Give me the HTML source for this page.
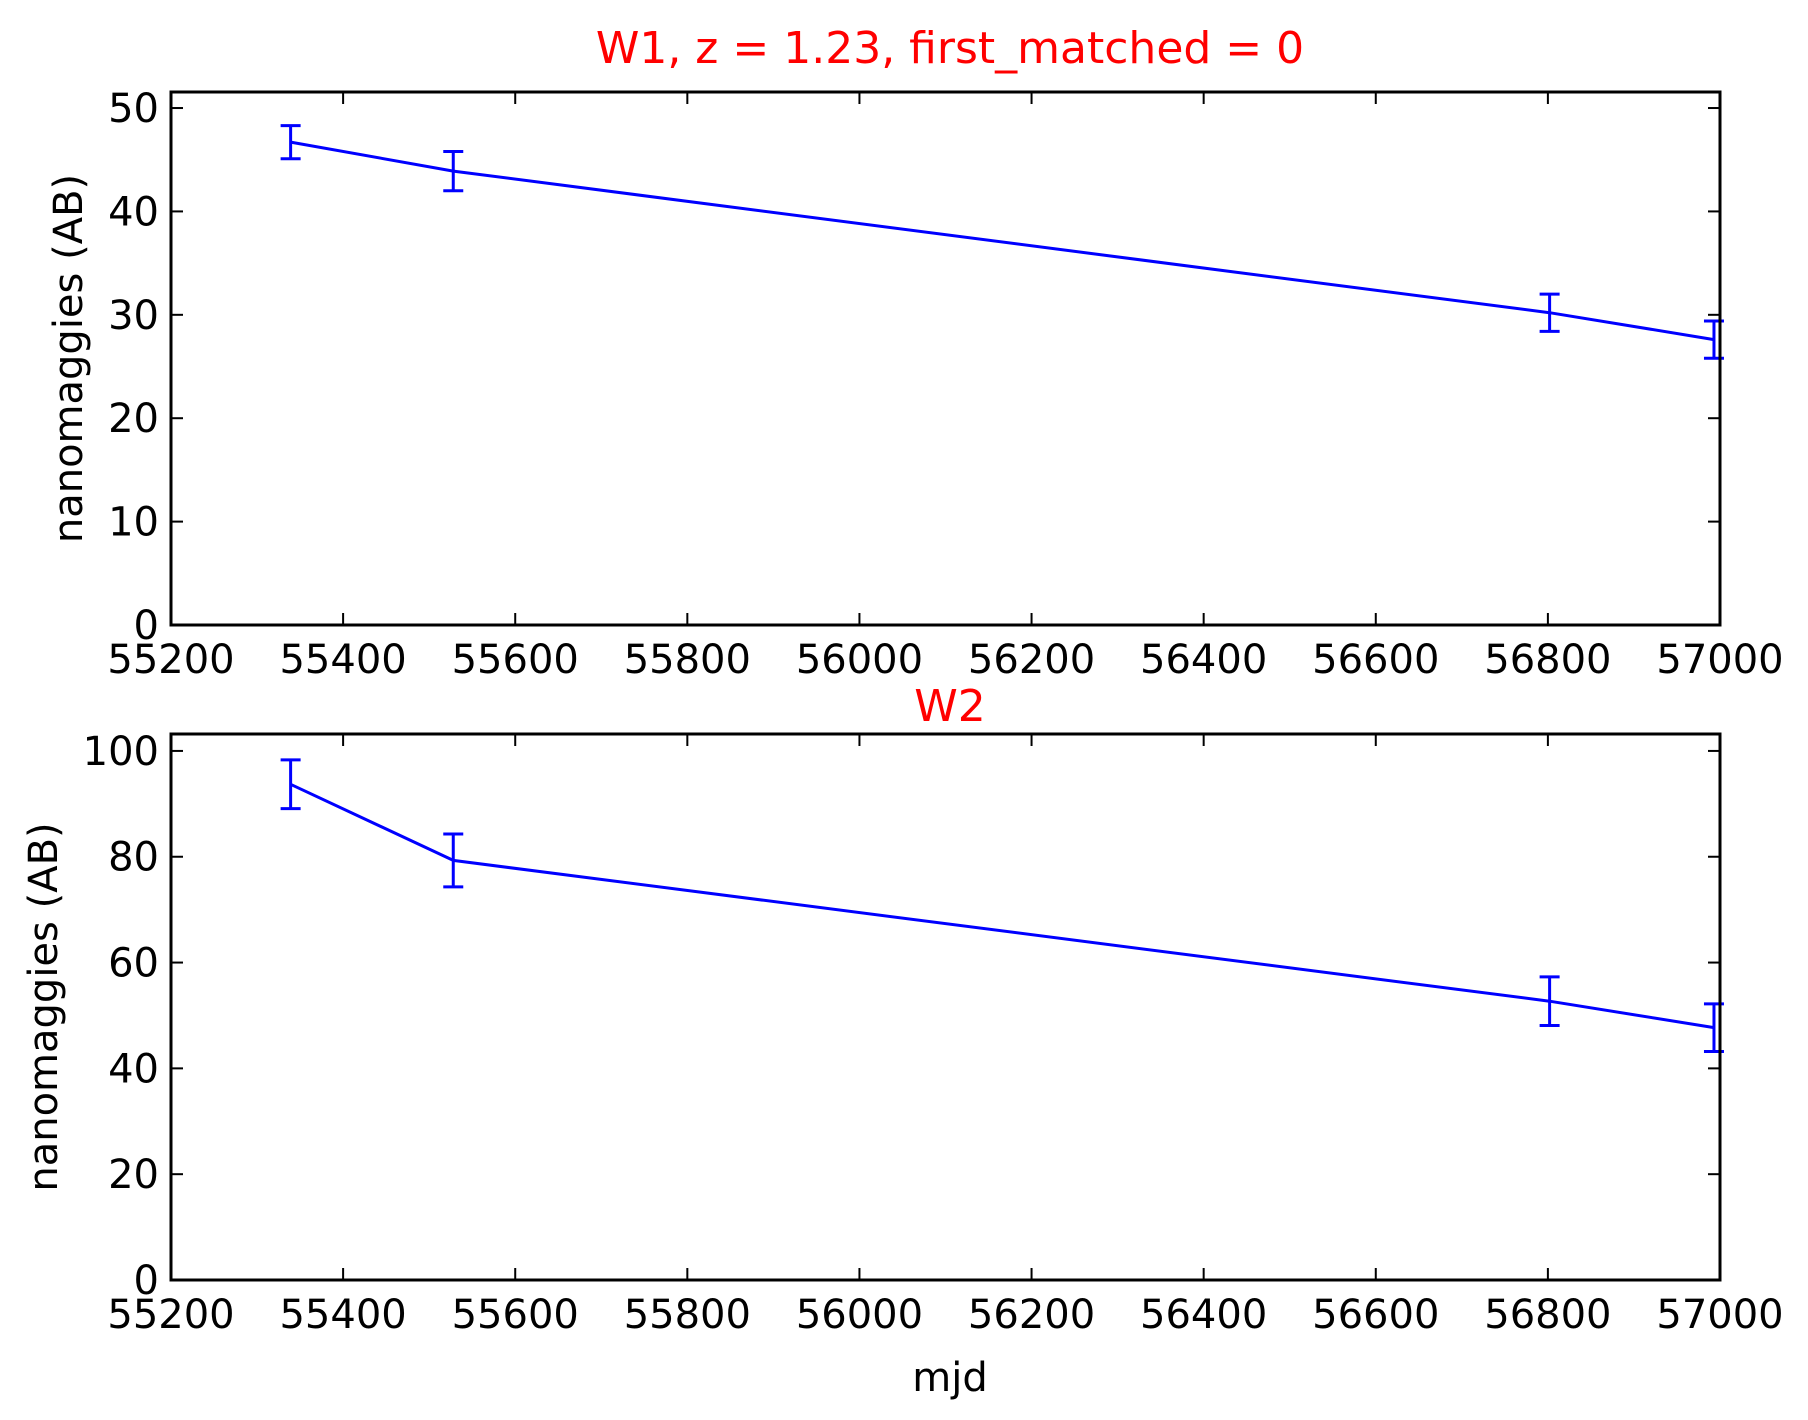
<!DOCTYPE html>
<html><head><meta charset="utf-8"><style>
html,body{margin:0;padding:0;background:#fff;}
svg{display:block;font-family:"DejaVu Sans","Liberation Sans",sans-serif;}
</style></head><body>
<svg id="fig" width="1808" height="1420" viewBox="0 0 1808 1420" xmlns="http://www.w3.org/2000/svg">
<rect width="1808" height="1420" fill="#fff"/>
<text x="950" y="63" font-size="44" fill="#ff0000" text-anchor="middle">W1, z = 1.23, first_matched = 0</text>
<text x="950" y="721" font-size="44" fill="#ff0000" text-anchor="middle">W2</text>
<text x="950" y="1391" font-size="40" fill="#000" text-anchor="middle">mjd</text>
<g id="p1"></g>
<g id="p2"></g>
</svg>
<script>
const mjdW1 = [55339, 55528, 56802, 56993];
const fluxW1 = [46.7, 43.9, 30.2, 27.6];
const errW1 = [1.6, 1.9, 1.8, 1.8];
const mjdW2 = [55339, 55528, 56802, 56993];
const fluxW2 = [93.7, 79.3, 52.7, 47.7];
const errW2 = [4.6, 5.0, 4.6, 4.5];
const xTicks = [55200, 55400, 55600, 55800, 56000, 56200, 56400, 56600, 56800, 57000];
const yTicksW1 = [0, 10, 20, 30, 40, 50];
const yTicksW2 = [0, 20, 40, 60, 80, 100];

const NS = 'http://www.w3.org/2000/svg';
function mk(parent, tag, attrs, text){
  const e = document.createElementNS(NS, tag);
  for (const k in attrs) e.setAttribute(k, attrs[k]);
  if (text !== undefined) e.textContent = text;
  parent.appendChild(e);
  return e;
}
function panel(gid, L, R, T, B, xmin, xmax, ymin, ymax, xs, ys, es, yt, ylabelX, name){
  const g = document.getElementById(gid);
  const sx = v => L + (v - xmin) / (xmax - xmin) * (R - L);
  const sy = v => B - (v - ymin) / (ymax - ymin) * (B - T);
  // ticks
  xTicks.forEach(t => {
    const x = sx(t);
    let e = mk(g, 'line', {x1:x, x2:x, y1:B, y2:B-12, stroke:'#000', 'stroke-width':2});
    
    
    e = mk(g, 'line', {x1:x, x2:x, y1:T, y2:T+12, stroke:'#000', 'stroke-width':2});
    
    
    e = mk(g, 'text', {x:x, y:B+48, 'font-size':40, 'text-anchor':'middle', fill:'#000'}, String(t));
    
    
  });
  yt.forEach(t => {
    const y = sy(t);
    let e = mk(g, 'line', {x1:L, x2:L+12, y1:y, y2:y, stroke:'#000', 'stroke-width':2});
    
    
    e = mk(g, 'line', {x1:R, x2:R-12, y1:y, y2:y, stroke:'#000', 'stroke-width':2});
    
    
    e = mk(g, 'text', {x:L-12, y:y+14, 'font-size':40, 'text-anchor':'end', fill:'#000'}, String(t));
    
    
  });
  // line
  const pts = xs.map((v,i) => sx(v).toFixed(1) + ',' + sy(ys[i]).toFixed(1)).join(' ');
  let pl = mk(g, 'polyline', {points:pts, fill:'none', stroke:'#0000ff', 'stroke-width':3});
  
  
  xs.forEach((v,i) => {
    const x = sx(v), y1 = sy(ys[i]-es[i]), y2 = sy(ys[i]+es[i]);
    const eg = mk(g, 'g', {stroke:'#0000ff', 'stroke-width':3});
    
    
    mk(eg, 'line', {x1:x, x2:x, y1:y1, y2:y2});
    mk(eg, 'line', {x1:x-10, x2:x+10, y1:y1, y2:y1});
    mk(eg, 'line', {x1:x-10, x2:x+10, y1:y2, y2:y2});
  });
  let fr = mk(g, 'rect', {x:L, y:T, width:R-L, height:B-T, fill:'none', stroke:'#000', 'stroke-width':3});
  
  
  const cy = (T+B)/2;
  let yl = mk(g, 'text', {x:ylabelX, y:cy, 'font-size':40, 'text-anchor':'middle', fill:'#000', transform:'rotate(-90 '+ylabelX+' '+cy+')'}, 'nanomaggies (AB)');
  
  
}
panel('p1', 171, 1720, 92, 625, 55200, 57000, 0, 51.55, mjdW1, fluxW1, errW1, yTicksW1, 82, 'w1');
panel('p2', 171, 1720, 734, 1280, 55200, 57000, 0, 103.2, mjdW2, fluxW2, errW2, yTicksW2, 57, 'w2');
</script>
</body></html>
